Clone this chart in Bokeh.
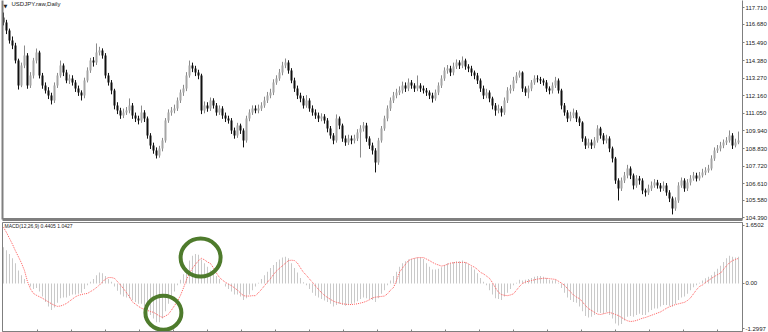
from bokeh.plotting import figure
from bokeh.models import (Range1d, LinearAxis, FixedTicker, ColumnDataSource, Label,
                          CustomJSTickFormatter)
from bokeh.layouts import column
from bokeh.embed import file_html
from bokeh.resources import INLINE

opens = [
117.10, 116.78, 116.28, 115.65, 115.33, 114.38, 112.81, 114.07, 114.70, 112.81,
113.44, 114.38, 114.89, 113.44, 112.81, 112.49, 112.18, 111.86, 112.81, 113.44,
114.07, 113.63, 113.12, 113.25, 113.00, 112.62, 112.36, 112.18, 113.12, 113.75,
114.38, 114.26, 114.89, 115.02, 114.70, 113.44, 113.00, 112.49, 111.54, 111.23,
110.91, 111.10, 111.23, 111.54, 110.91, 110.72, 110.60, 111.10, 110.72, 109.65,
109.02, 108.71, 108.39, 108.83, 109.34, 110.60, 111.10, 111.23, 111.36, 111.86,
112.36, 112.62, 113.44, 114.07, 113.88, 113.63, 113.44, 111.23, 111.54, 111.36,
111.86, 111.54, 111.10, 111.36, 110.91, 110.72, 110.60, 109.97, 109.65, 110.28,
109.97, 109.34, 110.72, 111.10, 111.36, 111.23, 111.36, 111.54, 111.86, 112.18,
112.36, 113.00, 113.25, 113.63, 114.07, 114.26, 113.75, 113.12, 112.62, 112.18,
111.99, 111.54, 111.86, 111.36, 111.10, 110.91, 110.72, 110.85, 110.60, 110.09,
109.65, 109.34, 110.72, 110.28, 109.46, 109.21, 109.46, 109.34, 109.46, 109.84,
110.09, 110.28, 109.46, 109.02, 108.71, 107.95, 109.34, 110.09, 110.72, 111.36,
111.86, 112.18, 112.36, 112.49, 112.81, 112.62, 113.00, 112.81, 112.62, 112.81,
112.62, 112.49, 112.36, 112.18, 111.99, 112.36, 112.81, 113.25, 113.75, 113.88,
113.63, 114.01, 114.26, 114.07, 114.38, 114.01, 113.88, 113.63, 113.44, 113.12,
112.62, 112.18, 112.36, 111.99, 111.54, 111.23, 111.36, 111.10, 111.86, 112.49,
112.62, 113.12, 113.44, 113.63, 112.62, 112.36, 112.62, 113.00, 113.25, 113.20,
113.12, 113.00, 112.62, 112.49, 112.81, 113.12, 112.49, 111.54, 111.10, 110.72,
110.91, 111.10, 110.72, 110.47, 109.46, 109.02, 109.21, 109.02, 109.34, 110.09,
109.65, 109.34, 109.46, 108.83, 108.20, 106.81, 106.31, 106.81, 107.13, 107.57,
107.13, 106.50, 106.94, 106.81, 106.18, 106.06, 106.31, 106.50, 106.69, 106.50,
106.31, 106.50, 106.06, 105.68, 105.05, 105.55, 106.50, 106.81, 106.31, 106.69,
106.94, 107.13, 106.94, 107.13, 107.32, 107.44, 107.57, 108.20, 108.71, 108.83,
109.02, 109.21, 109.34, 109.65, 109.02, 109.21]

highs = [
117.41, 116.95, 116.40, 115.90, 115.50, 114.50, 114.25, 115.33, 114.85, 113.65,
114.55, 115.14, 115.00, 113.60, 113.00, 112.70, 112.35, 113.00, 113.60, 114.38,
114.20, 113.80, 113.50, 113.45, 113.15, 112.80, 112.50, 113.30, 113.95, 114.55,
114.60, 115.46, 115.25, 115.15, 114.85, 113.60, 113.15, 112.60, 111.75, 111.40,
111.35, 111.45, 111.99, 111.70, 111.10, 110.90, 111.54, 111.25, 110.85, 109.80,
109.20, 108.90, 109.00, 109.50, 110.75, 111.30, 111.45, 111.60, 112.05, 112.55,
112.85, 113.65, 114.38, 114.25, 114.05, 113.80, 113.55, 111.80, 111.75, 112.05,
112.00, 111.70, 111.55, 111.50, 111.10, 110.90, 110.75, 110.15, 110.45, 110.40,
110.10, 110.90, 111.30, 111.55, 111.55, 111.60, 111.75, 112.10, 112.40, 112.60,
113.20, 113.45, 113.85, 114.30, 114.51, 114.40, 113.90, 113.30, 112.80, 112.35,
112.15, 112.20, 112.00, 111.55, 111.30, 111.10, 111.05, 111.00, 110.75, 110.25,
109.80, 110.98, 110.85, 110.40, 109.65, 109.70, 109.65, 109.70, 110.05, 110.30,
110.50, 110.45, 109.60, 109.20, 108.85, 109.50, 110.25, 110.90, 111.55, 112.05,
112.40, 112.60, 112.75, 113.05, 113.00, 113.25, 113.15, 112.95, 113.44, 112.95,
112.80, 112.65, 112.50, 112.35, 112.55, 113.00, 113.45, 113.95, 114.10, 114.05,
114.25, 114.45, 114.40, 114.64, 114.50, 114.15, 114.05, 113.75, 113.60, 113.25,
112.80, 112.60, 112.50, 112.10, 111.70, 111.60, 111.50, 112.05, 112.70, 112.85,
113.35, 113.65, 113.75, 113.70, 112.75, 112.80, 113.15, 113.45, 113.45, 113.35,
113.25, 113.15, 112.75, 113.00, 113.35, 113.25, 112.60, 111.70, 111.25, 111.15,
111.35, 111.25, 110.85, 110.55, 109.60, 109.45, 109.40, 109.55, 110.30, 110.20,
109.80, 109.70, 109.60, 108.95, 108.30, 106.95, 107.00, 107.35, 107.80, 107.70,
107.25, 107.15, 107.10, 106.95, 106.30, 106.55, 106.75, 106.90, 106.85, 106.65,
106.75, 106.65, 106.20, 105.80, 105.75, 106.70, 107.00, 106.95, 106.90, 107.15,
107.35, 107.30, 107.35, 107.55, 107.65, 107.80, 108.40, 108.90, 109.05, 109.25,
109.40, 109.55, 109.97, 109.80, 109.45, 109.90]

lows = [
116.60, 116.05, 115.45, 115.10, 114.20, 112.55, 112.70, 113.90, 112.60, 112.65,
113.25, 114.20, 113.25, 112.60, 112.30, 111.95, 111.61, 111.70, 112.65, 113.30,
113.40, 112.95, 112.90, 112.80, 112.40, 112.15, 111.86, 112.00, 113.00, 113.60,
114.00, 114.10, 114.70, 114.50, 113.25, 112.80, 112.25, 111.30, 111.00, 110.70,
110.75, 110.95, 111.05, 110.70, 110.50, 110.35, 110.45, 110.50, 109.45, 108.80,
108.50, 108.20, 108.25, 108.65, 109.20, 110.45, 110.90, 111.05, 111.20, 111.70,
112.15, 112.45, 113.30, 113.65, 113.40, 113.20, 111.00, 111.05, 111.15, 111.20,
111.35, 110.90, 110.95, 110.70, 110.50, 110.40, 109.75, 109.45, 109.50, 109.75,
108.90, 109.20, 110.55, 110.95, 111.05, 111.05, 111.20, 111.40, 111.70, 112.00,
112.20, 112.85, 113.10, 113.45, 113.90, 113.55, 112.95, 112.40, 111.95, 111.75,
111.35, 111.40, 111.15, 110.90, 110.70, 110.50, 110.55, 110.40, 109.85, 109.45,
109.10, 109.20, 110.05, 109.25, 109.00, 109.05, 109.10, 109.15, 109.30, 108.26,
109.90, 109.25, 108.80, 108.45, 107.32, 107.80, 109.20, 109.95, 110.55, 111.20,
111.70, 112.00, 112.20, 112.30, 112.40, 112.45, 112.60, 112.40, 112.45, 112.40,
112.30, 112.15, 111.95, 111.73, 111.85, 112.20, 112.65, 113.10, 113.55, 113.40,
113.45, 113.85, 113.85, 113.90, 113.80, 113.65, 113.40, 113.20, 112.90, 112.40,
111.95, 112.00, 111.75, 111.30, 110.90, 111.05, 110.85, 110.95, 111.70, 112.30,
112.45, 112.95, 113.30, 112.40, 112.15, 112.00, 112.45, 112.85, 113.00, 112.90,
112.80, 112.40, 112.25, 112.30, 112.65, 112.30, 111.30, 110.90, 110.50, 110.55,
110.75, 110.50, 110.25, 109.25, 108.80, 108.85, 108.80, 108.85, 109.20, 109.45,
109.10, 109.15, 108.60, 107.95, 106.60, 105.55, 106.15, 106.65, 106.95, 106.90,
106.25, 106.35, 106.55, 105.95, 105.80, 105.90, 106.15, 106.35, 106.30, 106.10,
106.15, 105.85, 105.45, 104.67, 104.90, 105.40, 106.35, 106.10, 106.15, 106.50,
106.80, 106.75, 106.80, 107.00, 107.15, 107.30, 107.45, 108.05, 108.55, 108.65,
108.85, 109.05, 109.20, 108.80, 108.90, 109.10]

closes = [
116.78, 116.28, 115.65, 115.33, 114.38, 112.81, 114.07, 114.70, 112.81, 113.44,
114.38, 114.89, 113.44, 112.81, 112.49, 112.18, 111.86, 112.81, 113.44, 114.07,
113.63, 113.12, 113.25, 113.00, 112.62, 112.36, 112.18, 113.12, 113.75, 114.38,
114.26, 114.89, 115.02, 114.70, 113.44, 113.00, 112.49, 111.54, 111.23, 110.91,
111.10, 111.23, 111.54, 110.91, 110.72, 110.60, 111.10, 110.72, 109.65, 109.02,
108.71, 108.39, 108.83, 109.34, 110.60, 111.10, 111.23, 111.36, 111.86, 112.36,
112.62, 113.44, 114.07, 113.88, 113.63, 113.44, 111.23, 111.54, 111.36, 111.86,
111.54, 111.10, 111.36, 110.91, 110.72, 110.60, 109.97, 109.65, 110.28, 109.97,
109.34, 110.72, 111.10, 111.36, 111.23, 111.36, 111.54, 111.86, 112.18, 112.36,
113.00, 113.25, 113.63, 114.07, 114.26, 113.75, 113.12, 112.62, 112.18, 111.99,
111.54, 111.86, 111.36, 111.10, 110.91, 110.72, 110.85, 110.60, 110.09, 109.65,
109.34, 110.72, 110.28, 109.46, 109.21, 109.46, 109.34, 109.46, 109.84, 110.09,
110.28, 109.46, 109.02, 108.71, 107.95, 109.34, 110.09, 110.72, 111.36, 111.86,
112.18, 112.36, 112.49, 112.81, 112.62, 113.00, 112.81, 112.62, 112.81, 112.62,
112.49, 112.36, 112.18, 111.99, 112.36, 112.81, 113.25, 113.75, 113.88, 113.63,
114.01, 114.26, 114.07, 114.38, 114.01, 113.88, 113.63, 113.44, 113.12, 112.62,
112.18, 112.36, 111.99, 111.54, 111.23, 111.36, 111.10, 111.86, 112.49, 112.62,
113.12, 113.44, 113.63, 112.62, 112.36, 112.62, 113.00, 113.25, 113.20, 113.12,
113.00, 112.62, 112.49, 112.81, 113.12, 112.49, 111.54, 111.10, 110.72, 110.91,
111.10, 110.72, 110.47, 109.46, 109.02, 109.21, 109.02, 109.34, 110.09, 109.65,
109.34, 109.46, 108.83, 108.20, 106.81, 106.31, 106.81, 107.13, 107.57, 107.13,
106.50, 106.94, 106.81, 106.18, 106.06, 106.31, 106.50, 106.69, 106.50, 106.31,
106.50, 106.06, 105.68, 105.05, 105.55, 106.50, 106.81, 106.31, 106.69, 106.94,
107.13, 106.94, 107.13, 107.32, 107.44, 107.57, 108.20, 108.71, 108.83, 109.02,
109.21, 109.34, 109.65, 109.02, 109.21, 109.34]

macd_main = [
0.98, 0.90, 0.80, 0.68, 0.55, 0.35, 0.22, 0.12, 0.00, -0.08,
-0.15, -0.12, -0.22, -0.35, -0.50, -0.62, -0.72, -0.65, -0.52, -0.40,
-0.38, -0.38, -0.33, -0.30, -0.30, -0.28, -0.25, -0.15, -0.05, 0.05,
0.12, 0.22, 0.30, 0.28, 0.20, 0.12, 0.05, -0.08, -0.20, -0.30,
-0.35, -0.38, -0.40, -0.45, -0.50, -0.55, -0.55, -0.62, -0.72, -0.85,
-0.95, -1.05, -1.05, -0.95, -0.75, -0.55, -0.40, -0.22, -0.05, 0.10,
0.25, 0.42, 0.62, 0.75, 0.80, 0.78, 0.65, 0.55, 0.45, 0.35,
0.28, 0.20, 0.12, 0.00, -0.08, -0.15, -0.22, -0.30, -0.30, -0.35,
-0.45, -0.40, -0.30, -0.18, -0.08, 0.02, 0.12, 0.22, 0.32, 0.42,
0.50, 0.58, 0.65, 0.70, 0.72, 0.68, 0.55, 0.42, 0.30, 0.15,
0.03, -0.05, -0.15, -0.25, -0.33, -0.38, -0.42, -0.46, -0.50, -0.55,
-0.62, -0.58, -0.55, -0.58, -0.60, -0.58, -0.55, -0.52, -0.48, -0.42,
-0.38, -0.40, -0.42, -0.45, -0.50, -0.40, -0.28, -0.18, -0.05, 0.08,
0.20, 0.32, 0.45, 0.55, 0.60, 0.65, 0.66, 0.68, 0.70, 0.70,
0.66, 0.55, 0.45, 0.38, 0.38, 0.40, 0.44, 0.50, 0.55, 0.55,
0.58, 0.60, 0.60, 0.62, 0.58, 0.52, 0.45, 0.38, 0.28, 0.15,
0.05, -0.05, -0.18, -0.30, -0.40, -0.42, -0.45, -0.35, -0.25, -0.15,
-0.05, 0.02, 0.10, 0.08, 0.10, 0.12, 0.15, 0.18, 0.20, 0.20,
0.18, 0.15, 0.10, 0.08, 0.10, 0.02, -0.12, -0.25, -0.38, -0.45,
-0.50, -0.52, -0.62, -0.75, -0.88, -0.92, -0.90, -0.85, -0.78, -0.80,
-0.82, -0.78, -0.85, -0.95, -1.08, -1.14, -1.10, -1.00, -0.90, -0.88,
-0.90, -0.85, -0.82, -0.85, -0.85, -0.78, -0.72, -0.68, -0.68, -0.62,
-0.58, -0.58, -0.60, -0.62, -0.55, -0.45, -0.38, -0.35, -0.28, -0.18,
-0.10, -0.05, 0.02, 0.08, 0.14, 0.18, 0.22, 0.32, 0.40, 0.48,
0.58, 0.68, 0.75, 0.72, 0.70, 0.72]

macd_signal = [
1.52, 1.38, 1.22, 1.06, 0.88, 0.72, 0.55, 0.35, 0.05, -0.15,
-0.27, -0.32, -0.36, -0.40, -0.45, -0.50, -0.55, -0.59, -0.62, -0.61,
-0.58, -0.54, -0.48, -0.42, -0.36, -0.32, -0.30, -0.28, -0.27, -0.22,
-0.17, -0.11, -0.04, 0.04, 0.12, 0.16, 0.16, 0.14, 0.05, -0.04,
-0.14, -0.25, -0.36, -0.50, -0.56, -0.62, -0.67, -0.70, -0.73, -0.76,
-0.78, -0.83, -0.88, -0.92, -0.88, -0.83, -0.72, -0.60, -0.48, -0.32,
-0.12, 0.10, 0.28, 0.41, 0.52, 0.62, 0.68, 0.64, 0.58, 0.54,
0.42, 0.28, 0.16, 0.09, 0.03, -0.02, -0.06, -0.12, -0.18, -0.26,
-0.33, -0.34, -0.34, -0.33, -0.33, -0.25, -0.16, -0.06, 0.04, 0.13,
0.24, 0.34, 0.41, 0.48, 0.55, 0.62, 0.63, 0.62, 0.55, 0.42,
0.30, 0.22, 0.12, 0.03, -0.07, -0.16, -0.25, -0.32, -0.38, -0.43,
-0.48, -0.51, -0.53, -0.55, -0.56, -0.57, -0.57, -0.56, -0.55, -0.53,
-0.51, -0.48, -0.44, -0.39, -0.37, -0.36, -0.35, -0.34, -0.28, -0.18,
-0.11, 0.08, 0.30, 0.42, 0.52, 0.62, 0.66, 0.68, 0.70, 0.70,
0.70, 0.66, 0.62, 0.57, 0.53, 0.50, 0.47, 0.49, 0.52, 0.55,
0.56, 0.57, 0.57, 0.57, 0.57, 0.53, 0.48, 0.44, 0.38, 0.30,
0.26, 0.20, 0.14, 0.02, -0.12, -0.24, -0.30, -0.32, -0.33, -0.31,
-0.28, -0.18, -0.08, 0.00, 0.04, 0.06, 0.08, 0.10, 0.12, 0.13,
0.14, 0.14, 0.13, 0.12, 0.11, 0.06, 0.01, -0.05, -0.14, -0.23,
-0.31, -0.37, -0.41, -0.50, -0.60, -0.68, -0.73, -0.78, -0.83, -0.84,
-0.82, -0.80, -0.78, -0.81, -0.84, -0.87, -0.92, -0.97, -1.01, -1.03,
-1.02, -1.00, -0.97, -0.94, -0.92, -0.89, -0.86, -0.83, -0.80, -0.77,
-0.72, -0.67, -0.63, -0.60, -0.57, -0.55, -0.53, -0.51, -0.46, -0.39,
-0.28, -0.17, -0.08, -0.04, 0.03, 0.08, 0.14, 0.19, 0.24, 0.28,
0.38, 0.48, 0.56, 0.62, 0.65, 0.68]

price_ticks = [117.71, 116.68, 115.49, 114.38, 113.27, 112.16, 111.05,
               109.94, 108.83, 107.72, 106.61, 105.58, 104.45]
price_tick_labels = ["117.710", "116.680", "115.490", "114.380", "113.270", "112.160",
                     "111.050", "109.940", "108.830", "107.720", "106.610", "105.580", "104.390"]
macd_tick_labels = ["1.6502", "0.00", "-1.2997"]
macd_scale_max = 1.6502
macd_scale_min = -1.2997
symbol_title = "USDJPY.raw,Daily"
macd_title = "MACD(12,26,9) 0.4405 1.0427"

# ---------------------------------------------------------------- layout
FONT = "Liberation Sans"
GRAY = "#7f7f7f"
TXT = "#222222"
n = len(closes)
xs = list(range(n))
x_range = Range1d(-0.33, 246.33)
blank = CustomJSTickFormatter(code="return ''")

bull = [c >= o for o, c in zip(opens, closes)]
src = ColumnDataSource(dict(
    x=xs, low=lows, high=highs,
    top=[max(o, c) for o, c in zip(opens, closes)],
    bottom=[min(o, c) for o, c in zip(opens, closes)],
    body=["#a6a6a6" if b else "#101010" for b in bull],
    wick=["#8a8a8a" if b else "#101010" for b in bull],
))


def style_axis(a):
    a.axis_line_color = GRAY
    a.major_tick_line_color = GRAY
    a.major_tick_out = 2
    a.major_tick_in = 0
    a.minor_tick_out = 0
    a.minor_tick_in = 0
    a.major_label_standoff = 1
    a.major_label_text_font_size = "6px"
    a.major_label_text_font = FONT
    a.major_label_text_color = TXT


def line_axis(width):
    a = LinearAxis(ticker=FixedTicker(ticks=[]), formatter=blank)
    a.axis_line_color = GRAY
    a.axis_line_width = width
    a.major_tick_out = 0
    a.major_tick_in = 0
    a.minor_tick_out = 0
    a.minor_tick_in = 0
    a.major_label_standoff = 0
    return a


p = figure(frame_width=740, frame_height=219, x_range=x_range,
           y_range=Range1d(104.35, 118.17), output_backend="svg",
           toolbar_location=None, x_axis_location=None, y_axis_location=None,
           min_border_left=2, min_border_top=0, min_border_bottom=2, min_border_right=0)
p.grid.visible = False
p.outline_line_color = None

p.segment(x0="x", y0="low", x1="x", y1="high", line_color="wick", line_width=1, source=src)
p.vbar(x="x", width=0.67, top="top", bottom="bottom", fill_color="body",
       line_color=None, source=src)

ax = LinearAxis(ticker=FixedTicker(ticks=price_ticks),
                major_label_overrides={t: l for t, l in zip(price_ticks, price_tick_labels)})
style_axis(ax)
p.add_layout(ax, "right")
p.add_layout(line_axis(2), "left")
p.add_layout(line_axis(3), "below")

p.add_layout(Label(x=0.0, y=118.0, text="\u25BC", text_font_size="5px",
                   text_font="DejaVu Sans", text_baseline="top", text_color=TXT))
p.add_layout(Label(x=2.67, y=118.12, text=symbol_title, text_font_size="6px",
                   text_font=FONT, text_baseline="top", text_color=TXT))

# ---------------------------------------------------------------- MACD window
m = figure(frame_width=740, frame_height=109, x_range=x_range,
           y_range=Range1d(macd_scale_min, macd_scale_max), output_backend="svg",
           toolbar_location=None, x_axis_location=None, y_axis_location=None,
           min_border_left=2, min_border_top=1, min_border_bottom=0, min_border_right=0)
m.grid.visible = False
m.outline_line_color = GRAY
m.outline_line_width = 1

msrc = ColumnDataSource(dict(x=xs, macd=macd_main, signal=macd_signal,
                             zero=[0.0] * n))
m.vbar(x="x", width=0.34, top="macd", bottom="zero", fill_color="#c9c9c9",
       line_color=None, source=msrc)
m.line(x="x", y="signal", line_color="#ff5a5a", line_dash="1 1", line_width=1,
       source=msrc)

# highlight rings
m.ellipse(x=[53.3, 65.7], y=[-0.79, 0.70], width=[36, 40], height=[34, 38],
          width_units="screen", height_units="screen", fill_color=None,
          line_color="#4e7b2c", line_width=4)

macd_ticks = [1.575, 0.0, -1.22]
mx = LinearAxis(ticker=FixedTicker(ticks=macd_ticks),
                major_label_overrides={t: l for t, l in zip(macd_ticks, macd_tick_labels)})
style_axis(mx)
m.add_layout(mx, "right")

time_ticks = [11.33 * k for k in range(1, 22)]
bx = LinearAxis(ticker=FixedTicker(ticks=time_ticks), formatter=blank)
bx.axis_line_color = GRAY
bx.major_tick_line_color = GRAY
bx.major_tick_in = 2
bx.major_tick_out = 2
bx.minor_tick_in = 0
bx.minor_tick_out = 0
bx.major_label_standoff = 0
m.add_layout(bx, "below")

m.add_layout(Label(x=0.33, y=1.63, text=macd_title, text_font_size="5px",
                   text_font=FONT, text_baseline="top", text_color=TXT))

layout = column(p, m, spacing=0)
open("out.html", "w").write(file_html(layout, INLINE))
